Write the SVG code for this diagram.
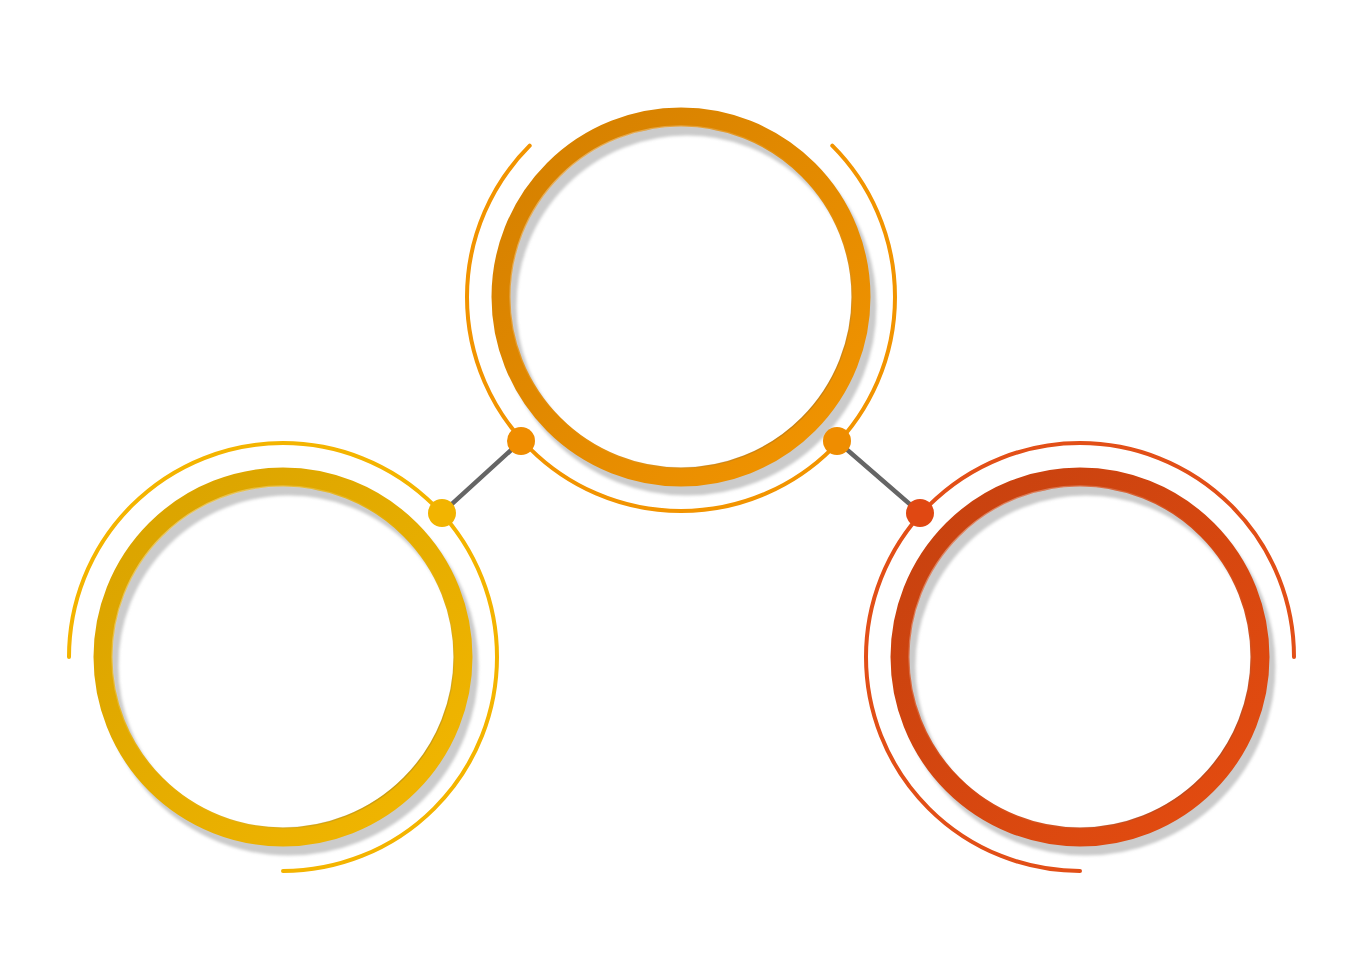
<svg xmlns="http://www.w3.org/2000/svg" width="1362" height="980" viewBox="0 0 1362 980">
<style>
.shadow{fill:none;stroke:#cbcbcb;stroke-width:19;filter:url(#blur)}
.ring{fill:none;stroke-width:19}
.edge{fill:none;stroke-width:1.5;opacity:0.5}
.arc{fill:none;stroke-width:4;stroke-linecap:round}
.conn{stroke:#656565;stroke-width:4.5;stroke-linecap:round}
</style>
<defs>
<filter id="blur" x="-10%" y="-10%" width="120%" height="120%"><feGaussianBlur stdDeviation="1.5"/></filter>
<linearGradient id="gTop" x1="0" y1="0" x2="1" y2="1"><stop offset="0" stop-color="#D37F00"/><stop offset="1" stop-color="#F39500"/></linearGradient>
<linearGradient id="gLeft" x1="0" y1="0" x2="1" y2="1"><stop offset="0" stop-color="#D8A200"/><stop offset="1" stop-color="#F3B700"/></linearGradient>
<linearGradient id="gRight" x1="0" y1="0" x2="1" y2="1"><stop offset="0" stop-color="#C5410F"/><stop offset="1" stop-color="#E54C10"/></linearGradient>
<linearGradient id="gEdge" x1="0" y1="0" x2="1" y2="1"><stop offset="0" stop-color="#ffffff"/><stop offset="0.5" stop-color="#ffffff" stop-opacity="0"/><stop offset="1" stop-color="#000000" stop-opacity="0.6"/></linearGradient>
</defs>
<rect width="1362" height="980" fill="#ffffff"/>
<g id="connectors">
<line class="conn" x1="521" y1="441" x2="442" y2="513"/>
<line class="conn" x1="837" y1="441" x2="920" y2="513"/>
</g>
<g id="node-top">
<circle class="shadow" cx="687" cy="306" r="180"/>
<circle class="ring" cx="681" cy="297" r="180" stroke="url(#gTop)"/>
<circle class="edge" cx="681" cy="297" r="171" stroke="url(#gEdge)"/>
<path class="arc" stroke="#F29400" d="M529.7,145.7 A214,214 0 1 0 832.3,145.7"/>
<circle cx="521" cy="441" r="14" fill="#EF8D00"/>
<circle cx="837" cy="441" r="14" fill="#EF8D00"/>
</g>
<g id="node-left">
<circle class="shadow" cx="289" cy="666" r="180"/>
<circle class="ring" cx="283" cy="657" r="180" stroke="url(#gLeft)"/>
<circle class="edge" cx="283" cy="657" r="171" stroke="url(#gEdge)"/>
<path class="arc" stroke="#F4B400" d="M69,657 A214,214 0 1 1 283,871"/>
<circle cx="442" cy="513" r="14" fill="#F2B400"/>
</g>
<g id="node-right">
<circle class="shadow" cx="1086" cy="666" r="180"/>
<circle class="ring" cx="1080" cy="657" r="180" stroke="url(#gRight)"/>
<circle class="edge" cx="1080" cy="657" r="171" stroke="url(#gEdge)"/>
<path class="arc" stroke="#E24F17" d="M1294,657 A214,214 0 1 0 1080,871"/>
<circle cx="920" cy="513" r="14" fill="#E04812"/>
</g>
</svg>
